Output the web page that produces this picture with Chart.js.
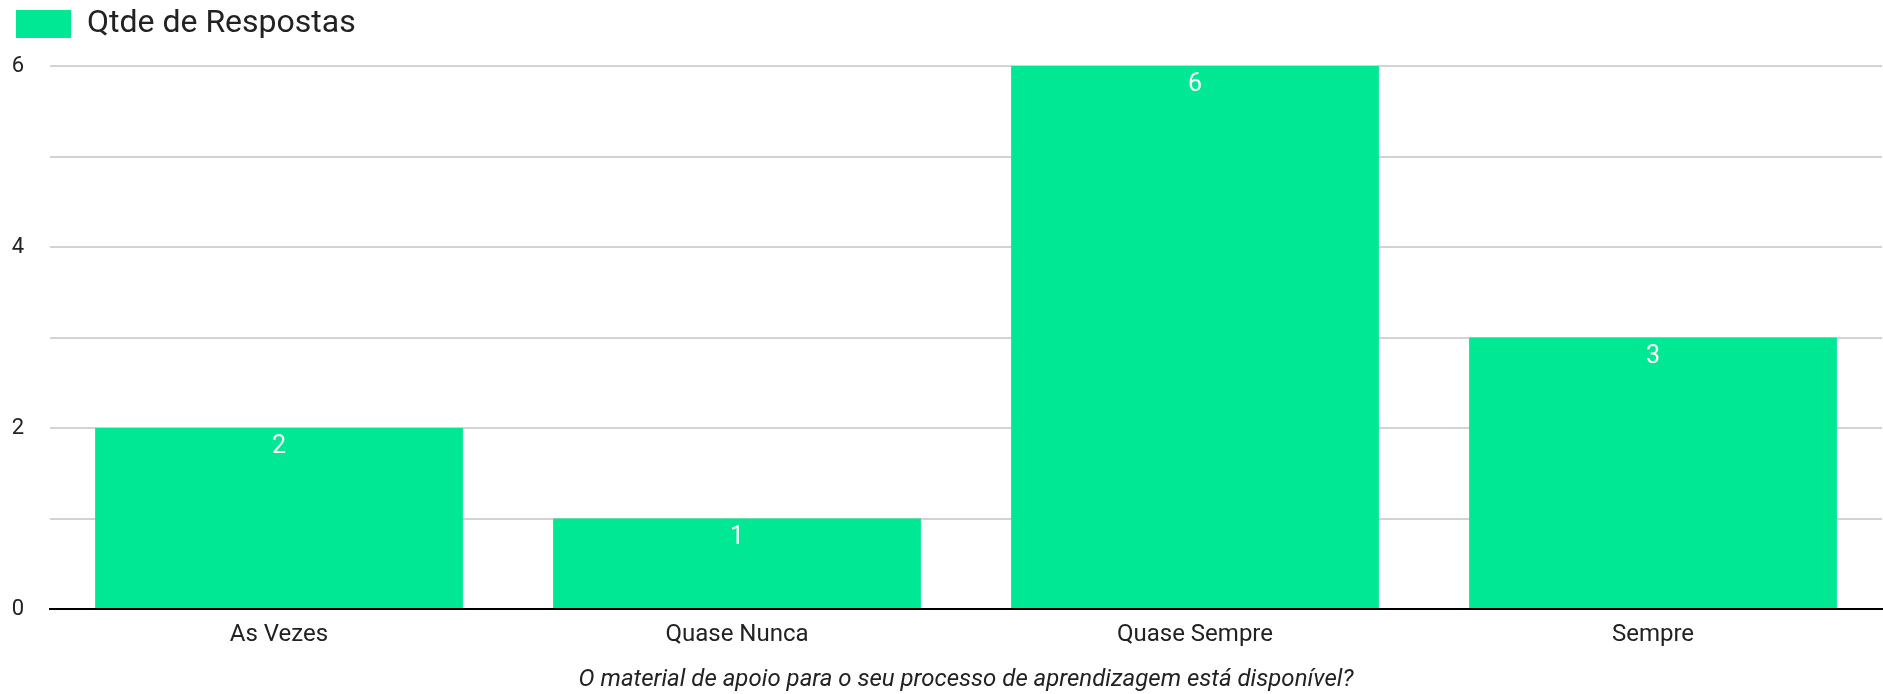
<!DOCTYPE html>
<html>
<head>
<meta charset="utf-8">
<script src="https://cdn.jsdelivr.net/npm/chart.js@4"></script>
<style>
  html, body { margin: 0; padding: 0; background: #fff; }
  #wrap { width: 1883px; height: 694px; position: relative; }
</style>
</head>
<body>
<div id="wrap"><canvas id="c" width="1883" height="694"></canvas></div>
<script>
const categories = ["As Vezes", "Quase Nunca", "Quase Sempre", "Sempre"];
const seriesName = "Qtde de Respostas";
const values = [2, 1, 6, 3];
const yTickLabels = [0, 2, 4, 6];
const xTitle = "O material de apoio para o seu processo de aprendizagem está disponível?";

const GREEN = "#00E893";
const FONT = "Roboto";

const legendHeight = {
  id: "legendHeight",
  beforeInit(chart) {
    const orig = chart.legend.fit;
    chart.legend.fit = function () {
      orig.call(this);
      this.height = 74;
    };
  }
};

const barLabels = {
  id: "barLabels",
  afterDatasetsDraw(chart) {
    const ctx = chart.ctx;
    const meta = chart.getDatasetMeta(0);
    ctx.save();
    ctx.fillStyle = "#ffffff";
    ctx.font = "25px " + FONT;
    ctx.textAlign = "center";
    ctx.textBaseline = "middle";
    meta.data.forEach((bar, i) => {
      ctx.fillText(String(chart.data.datasets[0].data[i]), bar.x, bar.y + 19);
    });
    ctx.restore();
  }
};

new Chart(document.getElementById("c"), {
  type: "bar",
  data: {
    labels: categories,
    datasets: [{
      label: seriesName,
      data: values,
      backgroundColor: GREEN,
      borderWidth: 0,
      categoryPercentage: 1,
      barPercentage: 0.803
    }]
  },
  options: {
    responsive: false,
    animation: false,
    devicePixelRatio: 1,
    layout: { padding: { left: 0, right: 1, top: -8, bottom: 0 } },
    plugins: {
      legend: {
        display: true,
        position: "top",
        align: "start",
        labels: {
          boxWidth: 55,
          boxHeight: 28,
          padding: 16,
          color: "#222",
          font: { family: FONT, size: 32 }
        }
      },
      tooltip: { enabled: false }
    },
    scales: {
      x: {
        grid: { display: false, drawTicks: false },
        border: { display: true, color: "#000", width: 2 },
        ticks: { color: "#222", font: { family: FONT, size: 24 }, padding: 12, maxRotation: 0 },
        title: {
          display: true,
          text: xTitle,
          color: "#222",
          font: { family: FONT, size: 24, style: "italic" },
          padding: { top: 0, bottom: 0 }
        },
        afterFit(scale) { scale.height = 85; }
      },
      y: {
        min: 0,
        max: 6,
        grid: { color: "#d3d3d3", lineWidth: 2, drawTicks: false },
        border: { display: false },
        ticks: {
          stepSize: 1,
          color: "#222",
          font: { family: FONT, size: 22 },
          padding: 26,
          callback: (v) => yTickLabels.includes(v) ? String(v) : ""
        },
        afterFit(scale) { scale.width = 50; }
      }
    }
  },
  plugins: [legendHeight, barLabels]
});
</script>
</body>
</html>
